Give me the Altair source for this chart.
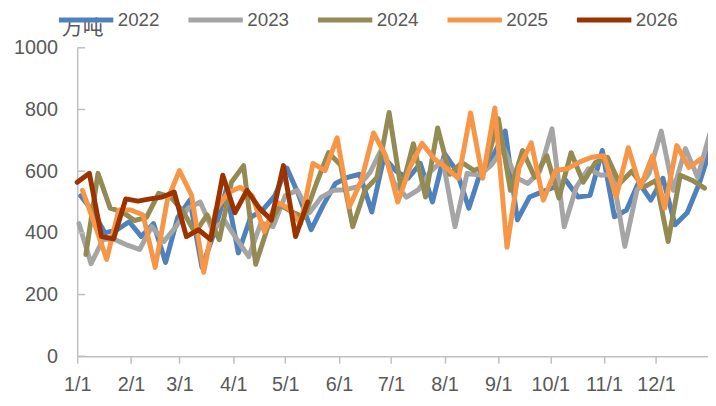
import altair as alt
import pandas as pd

years = ["2022", "2023", "2024", "2025", "2026"]
start_days = [2, 1, 5, 3, 0]

v2022 = [520, 470, 400, 410, 436, 388, 430, 304, 450, 506, 288, 400, 540, 335, 450, 474,
         520, 610, 520, 410, 490, 560, 580, 590, 468, 645, 600, 577, 625, 500, 657, 600,
         480, 602, 650, 730, 442, 516, 532, 548, 570, 516, 522, 667, 452, 474, 564, 506,
         577, 426, 465, 561, 683]
v2023 = [430, 300, 380, 378, 360, 346, 420, 372, 420, 480, 500, 410, 440, 380, 323, 432,
         420, 520, 538, 465, 516, 538, 540, 550, 596, 676, 560, 516, 540, 600, 634, 420,
         593, 587, 620, 676, 580, 560, 600, 737, 420, 548, 608, 587, 590, 356, 538, 593,
         730, 538, 673, 580, 721]
v2024 = [330, 593, 480, 468, 440, 450, 528, 516, 470, 400, 458, 378, 564, 618, 298, 420,
         490, 468, 450, 560, 660, 620, 420, 538, 580, 790, 538, 689, 516, 740, 590, 628,
         602, 618, 770, 538, 667, 580, 650, 513, 660, 564, 628, 645, 560, 600, 548, 570,
         372, 587, 570, 545]
v2025 = [538, 430, 314, 474, 474, 458, 288, 506, 602, 522, 272, 474, 530, 548, 520, 404,
         500, 480, 430, 625, 602, 708, 484, 570, 724, 650, 500, 612, 690, 640, 610, 577,
         789, 577, 805, 353, 612, 692, 506, 602, 608, 630, 645, 650, 516, 676, 548, 650,
         480, 683, 612, 640]
v2026 = [564, 593, 388, 381, 510, 503, 510, 516, 532, 388, 410, 378, 587, 465, 538, 481,
         442, 618, 388, 500]

colors = ["#4F81BD", "#A5A5A5", "#948A54", "#F79646", "#9A3300"]
y_ticks = [0, 200, 400, 600, 800, 1000]
tick_days = [0, 31, 59, 90, 120, 151, 181, 212, 243, 273, 304, 334]
tick_labels = ["1/1", "2/1", "3/1", "4/1", "5/1", "6/1", "7/1", "8/1", "9/1",
               "10/1", "11/1", "12/1"]

series = [v2022, v2023, v2024, v2025, v2026]
rows = []
for yr, s, vals in zip(years, start_days, series):
    for i, v in enumerate(vals):
        rows.append({"year": yr, "day": s + 7 * i, "value": v, "idx": i})
df = pd.DataFrame(rows)

label_expr = ("[" + ",".join(f"'{t}'" for t in tick_labels) + "][indexof(["
              + ",".join(str(d) for d in tick_days) + "], datum.value)]")

FONT = "Liberation Sans"
TXT = "#595959"
AX = "#BFBFBF"

y_axis = alt.Axis(values=y_ticks, format="d", title="万吨", titleAngle=0, titleX=-16,
                  titleY=-19, titleAlign="left", titleBaseline="middle",
                  titleFont="Noto Sans CJK SC", titleFontSize=21,
                  titleFontWeight="normal", titleColor=TXT, grid=False, tickSize=0,
                  domainColor=AX, domainWidth=1.5, labelFontSize=20, labelColor=TXT,
                  labelFont=FONT, labelPadding=20, labelFlush=False)
y_scale = alt.Scale(domain=[0, 1000], nice=False)

lines = alt.Chart(df).mark_line(strokeWidth=5, strokeJoin="round", strokeCap="round").encode(
    x=alt.X("day:Q",
            scale=alt.Scale(domain=[0, 364], nice=False, zero=False),
            axis=alt.Axis(values=tick_days, labelExpr=label_expr, title=None, grid=False,
                          tickSize=7, tickColor=AX, tickWidth=1.5, domainColor=AX,
                          domainWidth=1.5, labelFontSize=20, labelColor=TXT, labelFont=FONT,
                          labelPadding=12, labelFlush=False, labelOverlap=False)),
    y=alt.Y("value:Q", scale=y_scale, axis=y_axis),
    color=alt.Color("year:N",
                    scale=alt.Scale(domain=years, range=colors),
                    legend=alt.Legend(title=None, orient="none", direction="horizontal",
                                      legendX=-21, legendY=-38, symbolType="stroke",
                                      symbolSize=3025, symbolStrokeWidth=5, clipHeight=20,
                                      labelFontSize=19, labelColor=TXT, labelFont=FONT,
                                      labelOffset=2, columnPadding=26, padding=0)),
    order=alt.Order("idx:Q"),
)

ticks_df = pd.DataFrame({"value": y_ticks})
inner_ticks = alt.Chart(ticks_df).mark_rule(color=AX, strokeWidth=1.5).encode(
    y=alt.Y("value:Q", scale=y_scale, axis=y_axis),
    x=alt.value(0),
    x2=alt.value(8),
)

chart = alt.layer(lines, inner_ticks).properties(
    width=638,
    height=312,
    autosize=alt.AutoSizeParams(type="none"),
    padding={"left": 70, "top": 38, "right": 0, "bottom": 40},
).configure_view(stroke=None)

chart.save("out.html", embed_options={"renderer": "svg", "actions": False})
